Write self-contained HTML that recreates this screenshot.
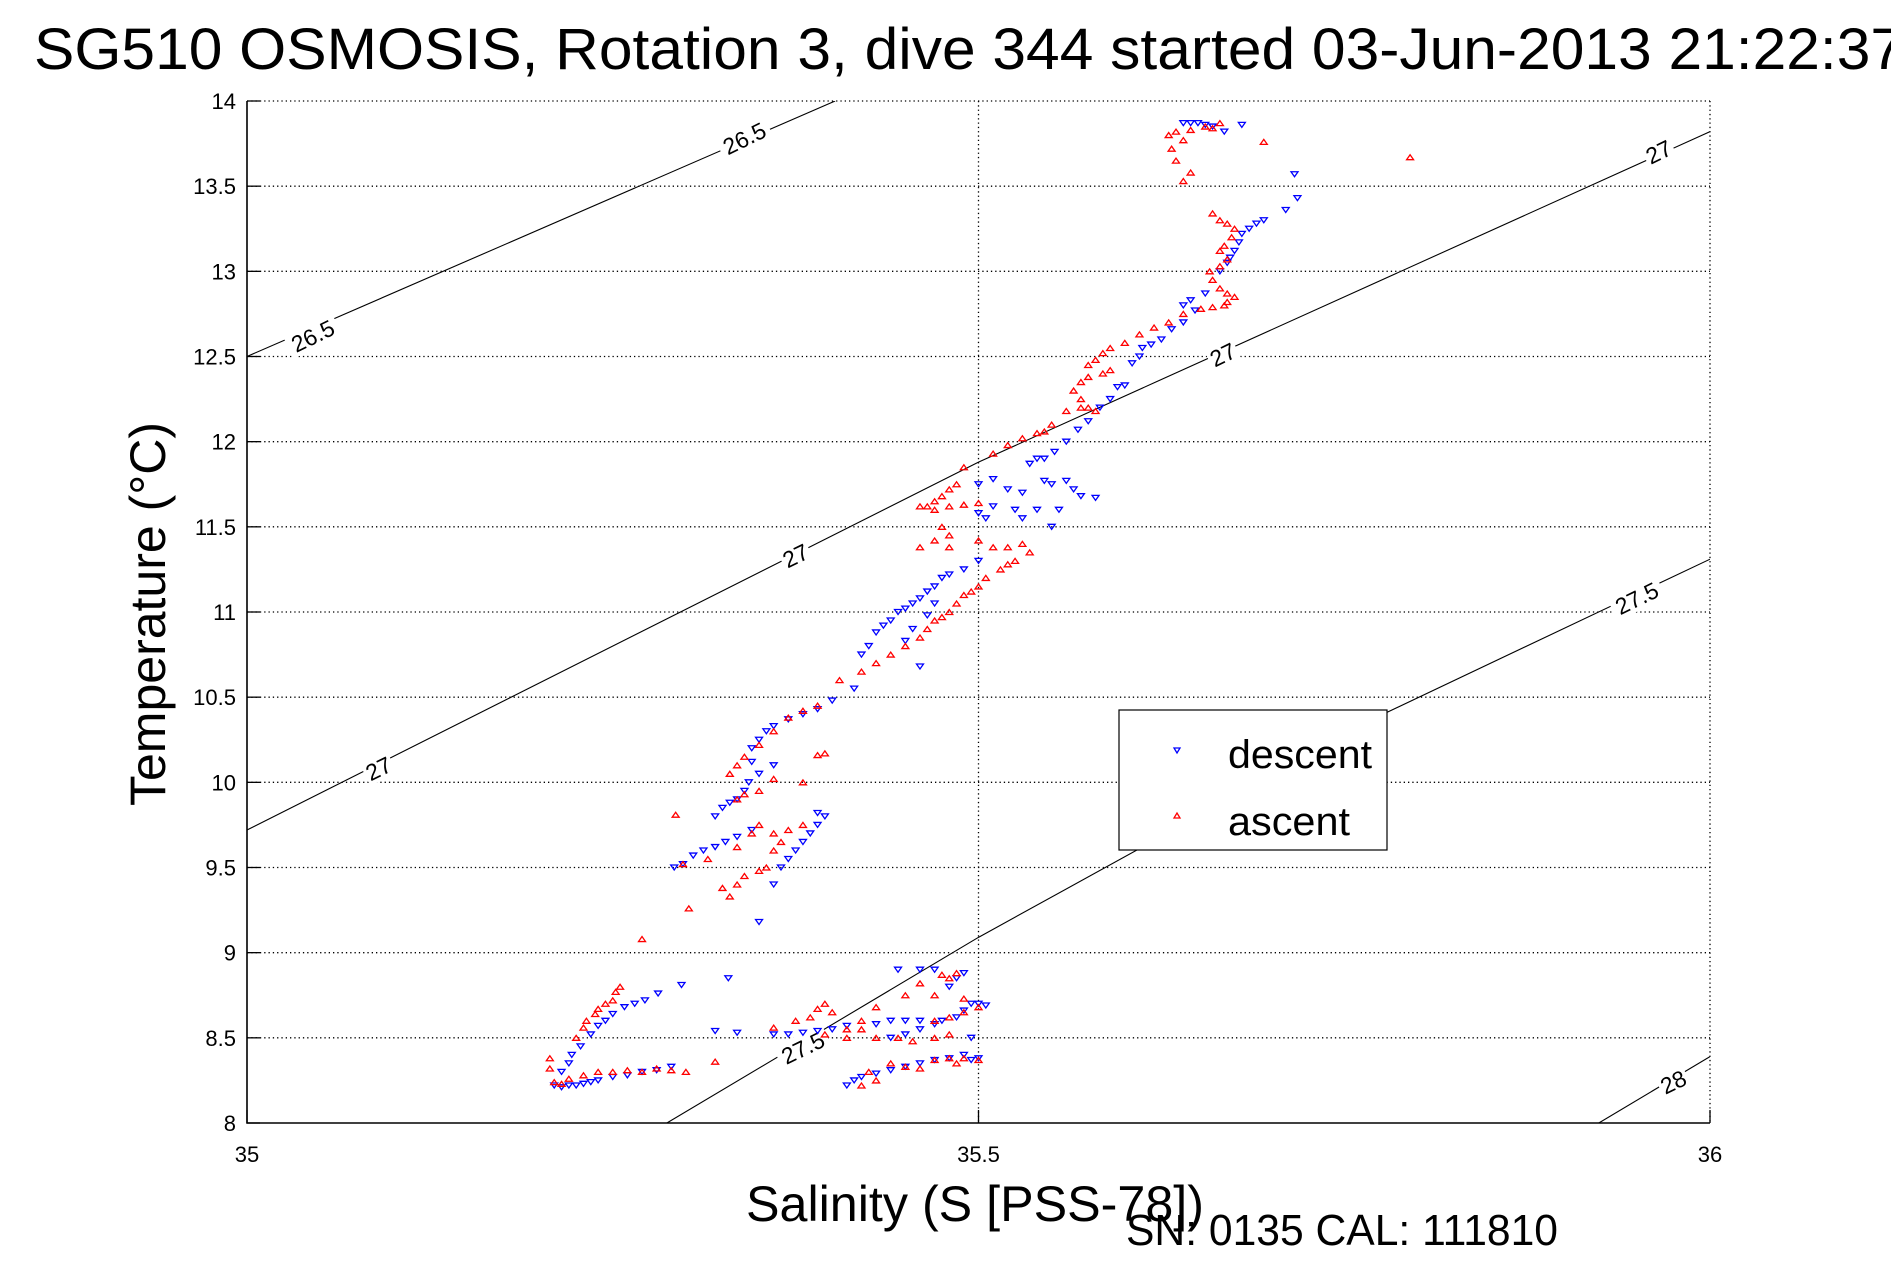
<!DOCTYPE html>
<html><head><meta charset="utf-8"><style>
html,body{margin:0;padding:0;background:#fff;}
svg{display:block;font-family:"Liberation Sans",sans-serif;}
</style></head><body>
<svg id="chart" width="1891" height="1262" viewBox="0 0 1891 1262" xmlns="http://www.w3.org/2000/svg">
<rect width="1891" height="1262" fill="#fff"/>
<text x="34" y="69" font-size="58" textLength="1870" lengthAdjust="spacingAndGlyphs">SG510 OSMOSIS, Rotation 3, dive 344 started 03-Jun-2013 21:22:37</text>
<g id="grid"></g>
<g id="contours"></g>
<g id="desc"></g>
<g id="asc"></g>
<g id="axes"></g>
<text x="746" y="1221" font-size="50" textLength="458" lengthAdjust="spacingAndGlyphs">Salinity (S [PSS-78])</text>
<text x="1126" y="1245" font-size="44" textLength="432" lengthAdjust="spacingAndGlyphs">SN: 0135  CAL: 111810</text>
<text transform="translate(165,806) rotate(-90)" x="0" y="0" font-size="50" textLength="384" lengthAdjust="spacingAndGlyphs">Temperature (°C)</text>
<g>
<rect x="1119" y="710" width="268" height="140" fill="#fff" stroke="#000" stroke-width="1.2"/>
<path d="M1174,748 L1180,748 L1177,753 Z" fill="none" stroke="#00f" stroke-width="1.3"/>
<text x="1228" y="768" font-size="40" textLength="144" lengthAdjust="spacingAndGlyphs">descent</text>
<path d="M1174,818 L1180,818 L1177,813 Z" fill="none" stroke="#f00" stroke-width="1.3"/>
<text x="1228" y="835" font-size="40" textLength="122" lengthAdjust="spacingAndGlyphs">ascent</text>
</g>
</svg>
<script>
const xTicks=[35,35.5,36];
const yTicks=[8,8.5,9,9.5,10,10.5,11,11.5,12,12.5,13,13.5,14];
const xTickLabels=["35","35.5","36"];
const yTickLabels=["8","8.5","9","9.5","10","10.5","11","11.5","12","12.5","13","13.5","14"];
const contourLevels=["26.5","27","27.5","28"];
const contour265=[[35,12.5],[35.402,14]];
const contour27=[[35,9.72],[35.5,11.88],[36,13.82]];
const contour275=[[35.287,8],[35.5,9.09],[35.779,10.41],[36,11.31]];
const contour28=[[35.924,8],[36,8.39]];
const contourLabels=[["26.5",35.34,13.78],["26.5",35.045,12.62],["27",35.965,13.7],["27",35.667,12.51],["27",35.375,11.33],["27",35.09,10.08],["27.5",35.95,11.08],["27.5",35.38,8.44],["28",35.975,8.24]];
const descent=[[35.64,13.87],[35.645,13.87],[35.65,13.87],[35.655,13.86],[35.66,13.85],[35.668,13.82],[35.68,13.86],[35.716,13.57],[35.718,13.43],[35.71,13.36],[35.695,13.3],[35.69,13.28],[35.685,13.25],[35.68,13.22],[35.678,13.17],[35.675,13.12],[35.672,13.08],[35.67,13.05],[35.665,13.0],[35.655,12.87],[35.645,12.83],[35.64,12.8],[35.648,12.77],[35.64,12.7],[35.632,12.66],[35.625,12.6],[35.618,12.57],[35.612,12.55],[35.61,12.5],[35.605,12.46],[35.6,12.33],[35.595,12.32],[35.59,12.25],[35.583,12.2],[35.575,12.12],[35.568,12.07],[35.56,12.0],[35.552,11.94],[35.545,11.9],[35.535,11.87],[35.54,11.9],
[35.5,11.75],[35.51,11.78],[35.52,11.72],[35.53,11.7],[35.545,11.77],[35.55,11.75],[35.56,11.77],[35.565,11.72],[35.57,11.68],[35.58,11.67],[35.555,11.6],[35.54,11.6],[35.525,11.6],[35.51,11.62],[35.505,11.55],[35.53,11.55],[35.5,11.58],[35.55,11.5],[35.5,11.3],
[35.49,11.25],[35.48,11.22],[35.475,11.2],[35.47,11.15],[35.465,11.12],[35.46,11.08],[35.455,11.05],[35.45,11.02],[35.445,11.0],[35.44,10.95],[35.435,10.92],[35.43,10.88],[35.425,10.8],[35.42,10.75],[35.47,11.05],[35.465,10.98],[35.455,10.9],[35.45,10.83],[35.46,10.68],[35.415,10.55],[35.4,10.48],[35.39,10.43],[35.38,10.4],[35.37,10.37],[35.36,10.33],[35.355,10.3],[35.35,10.25],[35.345,10.2],[35.345,10.12],[35.36,10.1],[35.35,10.05],[35.343,10.0],[35.34,9.95],[35.335,9.9],[35.33,9.88],[35.325,9.85],[35.32,9.8],[35.39,9.82],[35.395,9.8],[35.39,9.75],[35.385,9.7],[35.38,9.65],[35.375,9.6],[35.37,9.55],[35.365,9.5],[35.36,9.4],[35.35,9.18],[35.345,9.72],[35.335,9.68],[35.327,9.65],[35.32,9.62],[35.312,9.6],[35.305,9.57],[35.298,9.52],[35.292,9.5],
[35.21,8.22],[35.215,8.21],[35.22,8.22],[35.225,8.22],[35.23,8.23],[35.235,8.24],[35.24,8.25],[35.25,8.27],[35.26,8.28],[35.27,8.3],[35.28,8.31],[35.29,8.33],[35.215,8.3],[35.22,8.35],[35.222,8.4],[35.228,8.45],[35.235,8.52],[35.24,8.57],[35.245,8.6],[35.25,8.64],[35.258,8.68],[35.265,8.7],[35.272,8.72],[35.281,8.76],[35.297,8.81],[35.329,8.85],
[35.32,8.54],[35.335,8.53],[35.36,8.52],[35.37,8.52],[35.38,8.53],[35.39,8.54],[35.4,8.55],[35.41,8.57],[35.43,8.58],[35.44,8.6],[35.45,8.6],[35.46,8.6],
[35.44,8.5],[35.45,8.52],[35.46,8.55],[35.47,8.58],[35.475,8.6],[35.485,8.62],[35.49,8.66],[35.495,8.7],[35.5,8.7],[35.505,8.69],[35.48,8.8],[35.485,8.85],[35.49,8.88],[35.47,8.9],[35.46,8.9],[35.445,8.9],[35.495,8.5],[35.49,8.4],[35.48,8.38],[35.47,8.37],[35.46,8.35],[35.45,8.33],[35.44,8.31],[35.43,8.29],[35.42,8.27],[35.41,8.22],[35.415,8.25],[35.5,8.38],[35.495,8.37]];
const ascent=[[35.63,13.8],[35.635,13.82],[35.645,13.83],[35.655,13.85],[35.66,13.84],[35.64,13.77],[35.632,13.72],[35.635,13.65],[35.645,13.58],[35.64,13.53],[35.665,13.87],[35.695,13.76],[35.795,13.67],
[35.66,13.34],[35.665,13.3],[35.67,13.28],[35.675,13.25],[35.673,13.2],[35.668,13.15],[35.665,13.12],[35.67,13.07],[35.665,13.03],[35.658,13.0],[35.66,12.95],[35.665,12.9],[35.67,12.87],[35.675,12.85],[35.67,12.82],[35.668,12.8],[35.66,12.79],[35.652,12.78],[35.64,12.75],[35.63,12.7],[35.62,12.67],[35.61,12.63],[35.6,12.58],[35.59,12.55],[35.585,12.52],[35.58,12.48],[35.575,12.45],[35.59,12.42],[35.585,12.4],[35.575,12.38],[35.57,12.35],[35.565,12.3],[35.57,12.25],[35.575,12.2],[35.58,12.18],[35.57,12.2],[35.56,12.18],[35.55,12.1],[35.545,12.06],[35.54,12.05],[35.53,12.02],[35.52,11.98],[35.51,11.93],[35.49,11.85],[35.485,11.75],[35.48,11.72],[35.475,11.68],[35.47,11.65],[35.465,11.62],[35.47,11.6],[35.48,11.62],[35.49,11.63],[35.5,11.64],[35.46,11.62],[35.475,11.5],[35.48,11.45],[35.47,11.42],[35.46,11.38],[35.48,11.38],[35.5,11.42],[35.51,11.38],[35.52,11.38],[35.53,11.4],[35.535,11.35],[35.525,11.3],[35.52,11.28],[35.515,11.25],[35.505,11.2],[35.5,11.15],[35.495,11.12],[35.49,11.1],[35.485,11.05],[35.48,11.0],[35.475,10.97],[35.47,10.95],[35.465,10.9],[35.46,10.85],[35.45,10.8],[35.44,10.75],[35.43,10.7],[35.42,10.65],[35.405,10.6],[35.39,10.45],[35.38,10.42],[35.37,10.38],[35.36,10.3],[35.35,10.22],[35.34,10.15],[35.335,10.1],[35.33,10.05],[35.36,10.02],[35.38,10.0],[35.395,10.17],[35.39,10.16],[35.35,9.95],[35.34,9.93],[35.335,9.9],[35.35,9.75],[35.36,9.7],[35.37,9.72],[35.38,9.75],[35.365,9.65],[35.36,9.6],[35.355,9.5],[35.35,9.48],[35.34,9.45],[35.335,9.4],[35.33,9.33],[35.345,9.7],[35.335,9.62],[35.315,9.55],[35.298,9.52],[35.293,9.81],[35.325,9.38],[35.302,9.26],[35.27,9.08],
[35.207,8.38],[35.207,8.32],[35.21,8.24],[35.215,8.23],[35.22,8.26],[35.23,8.28],[35.24,8.3],[35.25,8.3],[35.26,8.31],[35.27,8.3],[35.28,8.32],[35.29,8.31],[35.3,8.3],[35.32,8.36],[35.225,8.5],[35.23,8.56],[35.232,8.6],[35.238,8.64],[35.24,8.67],[35.245,8.7],[35.25,8.72],[35.252,8.77],[35.255,8.8],
[35.36,8.56],[35.375,8.6],[35.385,8.62],[35.39,8.67],[35.395,8.7],[35.4,8.65],[35.42,8.6],[35.41,8.55],[35.395,8.52],[35.43,8.5],[35.445,8.5],[35.455,8.48],[35.47,8.5],[35.48,8.52],
[35.47,8.6],[35.48,8.62],[35.49,8.65],[35.5,8.68],[35.49,8.73],[35.47,8.75],[35.48,8.85],[35.475,8.87],[35.485,8.88],[35.46,8.82],[35.45,8.75],[35.43,8.68],[35.42,8.55],[35.41,8.5],[35.42,8.22],[35.43,8.25],[35.425,8.3],[35.44,8.35],[35.45,8.33],[35.46,8.32],[35.47,8.37],[35.48,8.38],[35.49,8.38],[35.5,8.37],[35.485,8.35]];

const L=247,R=1710,T=101,B=1123;
const xMin=35,xMax=36,yMin=8,yMax=14;
function sx(v){return L+(v-xMin)/(xMax-xMin)*(R-L);}
function sy(v){return B-(v-yMin)/(yMax-yMin)*(B-T);}
const NS='http://www.w3.org/2000/svg';
function mk(tag,parent,attrs){const e=document.createElementNS(NS,tag);for(const k in attrs)e.setAttribute(k,attrs[k]);parent.appendChild(e);return e;}
const grid=document.getElementById('grid'),axes=document.getElementById('axes');
const cg=document.getElementById('contours');
const defs=mk('defs',document.getElementById('chart'),{});
const cp=mk('clipPath',defs,{id:'plotclip'});
mk('rect',cp,{x:L,y:T,width:R-L,height:B-T});
cg.setAttribute('clip-path','url(#plotclip)');
yTicks.forEach((v,i)=>{
  if(v!==yMin){const g=mk('line',grid,{x1:L,x2:R,y1:sy(v),y2:sy(v),stroke:'#000','stroke-width':1.3,'stroke-dasharray':'1.3 3'});
  
  }
  const t=mk('line',axes,{x1:L,x2:L+13,y1:sy(v),y2:sy(v),stroke:'#000','stroke-width':1.3});
  
  
  const lb=mk('text',axes,{x:236,y:sy(v)+8,'font-size':22,'text-anchor':'end'});
  lb.textContent=yTickLabels[i];
  
  
});
xTicks.forEach((v,i)=>{
  if(v!==xMin){const g=mk('line',grid,{x1:sx(v),x2:sx(v),y1:T,y2:B,stroke:'#000','stroke-width':1.3,'stroke-dasharray':'1.3 3'});
  
  }
  const t=mk('line',axes,{x1:sx(v),x2:sx(v),y1:B,y2:B-13,stroke:'#000','stroke-width':1.3});
  
  
  const lb=mk('text',axes,{x:sx(v),y:1162,'font-size':22,'text-anchor':'middle'});
  lb.textContent=xTickLabels[i];
  
  
});
const al=mk('path',axes,{d:`M${L},${T} L${L},${B} L${R},${B}`,fill:'none',stroke:'#000','stroke-width':1.6});


[contour265,contour27,contour275,contour28].forEach((c,i)=>{
  const p=mk('polyline',cg,{points:c.map(q=>sx(q[0])+','+sy(q[1])).join(' '),fill:'none',stroke:'#000','stroke-width':1.1});
  
  
});
contourLabels.forEach(c=>{
  const x=sx(c[1]),y=sy(c[2]);
  const g=mk('g',cg,{transform:`translate(${x},${y}) rotate(-26)`});
  
  
  const w=c[0].length*12+6;
  mk('rect',g,{x:-w/2,y:-14,width:w,height:26,fill:'#fff'});
  const t=mk('text',g,{x:0,y:8,'font-size':23,'text-anchor':'middle'});
  t.textContent=c[0];
});
const dg=document.getElementById('desc'),ag=document.getElementById('asc');
descent.forEach(d=>{
  const x=sx(d[0]),y=sy(d[1]);
  const m=mk('path',dg,{d:`M${x-3.5},${y-2.5} L${x+3.5},${y-2.5} L${x},${y+2.5} Z`,fill:'none',stroke:'#00f','stroke-width':1.3});
  
  
});
ascent.forEach(d=>{
  const x=sx(d[0]),y=sy(d[1]);
  const m=mk('path',ag,{d:`M${x-3.5},${y+2.5} L${x+3.5},${y+2.5} L${x},${y-2.5} Z`,fill:'none',stroke:'#f00','stroke-width':1.3});
  
  
});
</script>
</body></html>
